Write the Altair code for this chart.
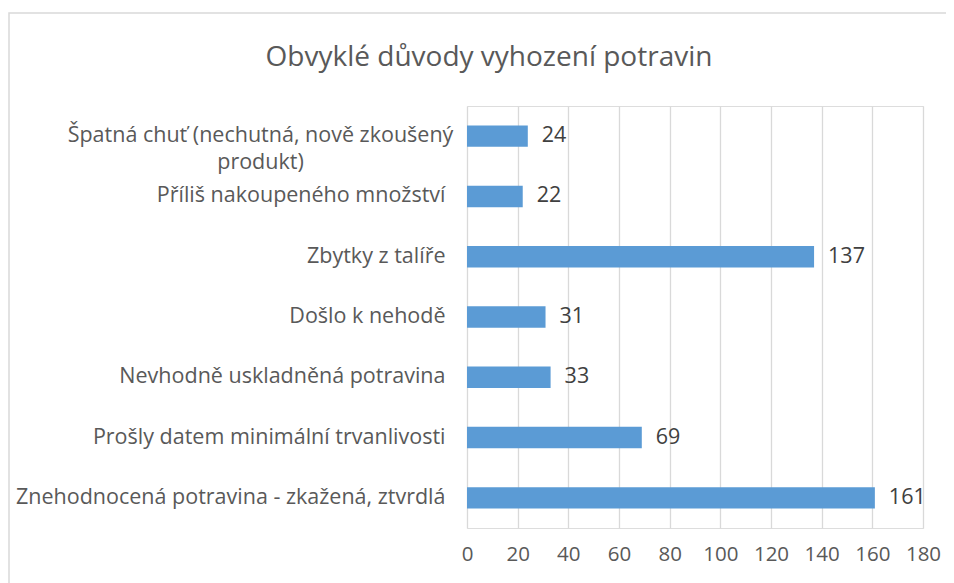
import altair as alt
import pandas as pd

categories = [
    "Špatná chuť (nechutná, nově zkoušený produkt)",
    "Příliš nakoupeného množství",
    "Zbytky z talíře",
    "Došlo k nehodě",
    "Nevhodně uskladněná potravina",
    "Prošly datem minimální trvanlivosti",
    "Znehodnocená potravina - zkažená, ztvrdlá",
]
values = [24, 22, 137, 31, 33, 69, 161]
x_ticks = [0, 20, 40, 60, 80, 100, 120, 140, 160, 180]
title_text = "Obvyklé důvody vyhození potravin"

df = pd.DataFrame({"reason": categories, "count": values})

FONT = "Open Sans"
FS = 21.5
wrapped = categories[0]
label_expr = (
    f"datum.value == '{wrapped}' ? ['Špatná chuť (nechutná, nově zkoušený', 'produkt)'] : datum.value"
)
is_wrapped = f"datum.value == '{wrapped}'"

y_enc = alt.Y(
    "reason:N",
    sort=categories,
    title=None,
    scale=alt.Scale(paddingInner=0.645, paddingOuter=0.3225),
    axis=alt.Axis(
        domain=False,
        ticks=False,
        grid=False,
        labelFont=FONT,
        labelFontSize=FS,
        labelColor="#595959",
        labelLimit=0,
        labelLineHeight=27,
        labelExpr=label_expr,
        labelAlign=alt.condition(is_wrapped, alt.value("center"), alt.value("right")),
        labelPadding=alt.condition(is_wrapped, alt.value(207), alt.value(22)),
    ),
)
x_enc = alt.X(
    "count:Q",
    title=None,
    scale=alt.Scale(domain=[0, 180], nice=False),
    axis=alt.Axis(
        values=x_ticks,
        domain=False,
        ticks=False,
        grid=True,
        gridColor="#d9d9d9",
        gridWidth=1.3,
        labelFont=FONT,
        labelFontSize=20.5,
        labelColor="#595959",
        labelPadding=16,
        labelOverlap=False,
        labelFlush=False,
    ),
)

bars = alt.Chart(df).mark_bar(color="#5b9bd5").encode(y=y_enc, x=x_enc)
labels = alt.Chart(df).mark_text(
    align="left", baseline="middle", dx=14, font=FONT, fontSize=FS, color="#404040"
).encode(y=alt.Y("reason:N", sort=categories), x=alt.X("count:Q"), text="count:Q")

frame = alt.Chart(alt.Data(values=[{"a": 1}])).mark_rect(
    fill=None, stroke="#d9d9d9", strokeWidth=1.5
).encode(
    x=alt.value(-458), x2=alt.value(520), y=alt.value(-93), y2=alt.value(500)
)

chart = (
    alt.layer(frame, bars, labels)
    .properties(
        width=456,
        height=422,
        autosize=alt.AutoSizeParams(type="none"),
        padding={"left": 459, "top": 98, "right": 23, "bottom": 55},
        title=alt.TitleParams(
            title_text,
            font=FONT,
            fontSize=28,
            fontWeight="normal",
            color="#595959",
            anchor="middle",
            dx=-206,
            offset=-60,
        ),
    )
    .configure_view(stroke=None)
    .configure(background="white")
)

chart.save("out.html", embed_options={"renderer": "svg", "actions": False})
